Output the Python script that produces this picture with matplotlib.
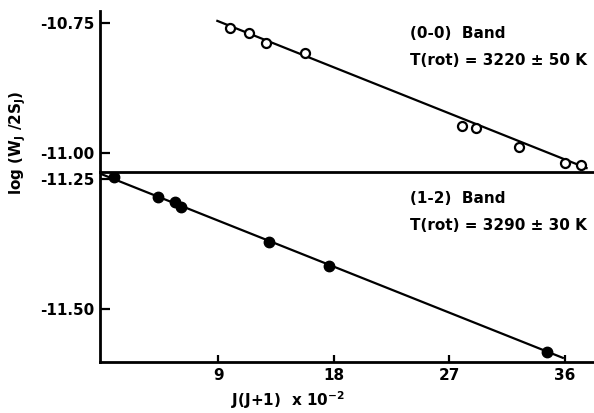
import matplotlib
matplotlib.use("Agg")
import matplotlib.pyplot as plt

# ---- data ----
band00_x = [9.95, 11.43, 12.75, 15.79, 28.0, 29.08, 32.43, 36.0, 37.25]
band00_y = [-10.760, -10.769, -10.788, -10.808, -10.948, -10.952, -10.988, -11.019, -11.023]
fit00_x = [8.94, 37.7]
fit00_y = [-10.746, -11.029]

band12_x = [0.86, 4.28, 5.68, 6.14, 12.99, 17.65, 34.6]
band12_y = [-11.246, -11.285, -11.294, -11.304, -11.371, -11.417, -11.583]
fit12_x = [-0.15, 35.85]
fit12_y = [-11.240, -11.594]

x_ticks = [9, 18, 27, 36]
top_yticks = [-10.75, -11.00]
top_ylabels = ["-10.75", "-11.00"]
bot_yticks = [-11.25, -11.50]
bot_ylabels = ["-11.25", "-11.50"]

W, H = 594, 413
fig = plt.figure(figsize=(W / 100, H / 100), dpi=100)
plt.rcParams['font.family'] = ['DejaVu Sans']

def fx(px):
    return px / W

def fy(py):
    return 1 - py / H

left, right = 100, 593
ax_bot = fig.add_axes([fx(left), fy(362), fx(right - left), fy(172) - fy(362)])
ax_top = fig.add_axes([fx(left), fy(172), fx(right - left), fy(11) - fy(172)], sharex=ax_bot)
ax_top.patch.set_visible(False)
ax_bot.patch.set_visible(False)

xlim = (-0.2, 38.2)
lw = 1.6
fs = 11

# top panel
ax_top.plot(fit00_x, fit00_y, color='black', lw=lw, zorder=2)
ax_top.plot(band00_x, band00_y, 'o', mfc='white', mec='black', mew=1.6, ms=6.5, zorder=3)
ax_top.set_xlim(*xlim)
ax_top.set_ylim(-11.0365, -10.727)
ax_top.set_yticks(top_yticks)
ax_top.set_yticklabels(top_ylabels, fontsize=fs, fontweight='bold')
ax_top.spines['top'].set_visible(False)
ax_top.spines['right'].set_visible(False)
ax_top.spines['left'].set_linewidth(2)
ax_top.spines['bottom'].set_linewidth(2)
ax_top.tick_params(axis='y', direction='in', length=7, width=1.6, pad=4)
ax_top.tick_params(axis='x', bottom=False, labelbottom=False)
ax_top.text(0.628, 0.86, "(0-0)  Band", transform=ax_top.transAxes,
            fontsize=fs, fontweight='bold', va='center', ha='left')
ax_top.text(0.628, 0.69, "T(rot) = 3220 ± 50 K", transform=ax_top.transAxes,
            fontsize=fs, fontweight='bold', va='center', ha='left')

# bottom panel
ax_bot.plot(fit12_x, fit12_y, color='black', lw=lw, zorder=2)
ax_bot.plot(band12_x, band12_y, 'o', mfc='black', mec='black', ms=7.5, zorder=3)
ax_bot.set_xlim(*xlim)
ax_bot.set_ylim(-11.602, -11.2365)
ax_bot.set_yticks(bot_yticks)
ax_bot.set_yticklabels(bot_ylabels, fontsize=fs, fontweight='bold')
ax_bot.set_xticks(x_ticks)
ax_bot.set_xticklabels([str(v) for v in x_ticks], fontsize=fs, fontweight='bold')
ax_bot.spines['top'].set_visible(False)
ax_bot.spines['right'].set_visible(False)
ax_bot.spines['left'].set_linewidth(2)
ax_bot.spines['bottom'].set_linewidth(2)
ax_bot.tick_params(axis='y', direction='in', length=7, width=1.6, pad=4)
ax_bot.tick_params(axis='x', direction='in', length=5, width=1.6, pad=4)
ax_bot.text(0.628, 0.86, "(1-2)  Band", transform=ax_bot.transAxes,
            fontsize=fs, fontweight='bold', va='center', ha='left')
ax_bot.text(0.628, 0.72, "T(rot) = 3290 ± 30 K", transform=ax_bot.transAxes,
            fontsize=fs, fontweight='bold', va='center', ha='left')

fig.text(fx(18), fy(143), r"log (W$_\mathbf{J}$ /2S$_\mathbf{J}$)", rotation=90,
         fontsize=fs, fontweight='bold', ha='center', va='center')
fig.text(fx(288), fy(400), r"J(J+1)  x 10$^{\mathbf{-2}}$",
         fontsize=fs, fontweight='bold', ha='center', va='center')

fig.savefig("out.png", dpi=100)
